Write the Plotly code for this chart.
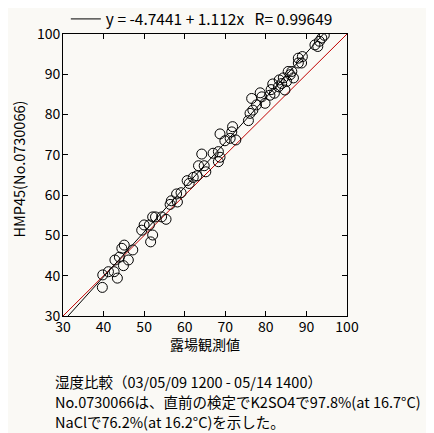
import plotly.graph_objects as go

obs = [39.7, 39.8, 41.2, 42.6, 43.4, 42.8, 44.9, 46.1, 43.9, 44.5, 45.1, 47.2,
       49.4, 50.0, 51.3, 52.1, 51.6, 52.1, 52.8, 54.3, 55.4, 56.4, 56.7, 58.2,
       58.0, 59.1, 60.6, 61.1, 62.1, 63.0, 63.4, 64.8, 65.2, 64.2, 67.0, 68.3,
       68.7, 68.3, 69.9, 68.7, 71.2, 71.6, 71.8, 72.6, 75.7, 76.1, 76.8, 76.5,
       77.7, 78.6, 79.0, 79.8, 81.0, 81.3, 82.1, 81.7, 83.1, 83.9, 84.7, 85.1,
       83.3, 84.3, 85.5, 86.4, 86.0, 86.8, 88.0, 89.0, 88.0, 88.8, 92.1, 92.8,
       93.2, 93.8, 94.4]
hmp = [37.1, 40.2, 41.0, 41.0, 39.4, 43.9, 42.5, 43.9, 44.6, 46.8, 47.6, 46.4,
       51.3, 52.6, 52.6, 50.1, 48.4, 54.6, 54.6, 54.6, 54.0, 57.7, 58.6, 58.3,
       60.3, 60.6, 63.6, 62.9, 64.4, 64.8, 67.3, 67.3, 65.8, 70.2, 70.4, 70.8,
       69.4, 68.3, 73.5, 75.2, 74.1, 75.7, 77.0, 73.7, 78.5, 80.3, 81.1, 84.0,
       82.4, 85.4, 84.4, 82.8, 84.8, 86.2, 85.3, 87.6, 86.9, 87.7, 86.1, 88.2,
       88.6, 89.1, 90.7, 90.7, 89.9, 89.1, 94.0, 94.4, 92.8, 92.8, 97.3, 96.9,
       98.2, 99.0, 99.7]

intercept = -4.7441
slope = 1.112
r_value = 0.99649
axis_range = [30, 100]
tick_vals = [30, 40, 50, 60, 70, 80, 90, 100]

fit_x = axis_range
fit_y = [intercept + slope * v for v in fit_x]

bg = "#faf9f5"
font_family = "Noto Sans CJK JP, Noto Sans, sans-serif"
gap = "\u00a0" * 3

fig = go.Figure()
fig.add_trace(go.Scatter(
    x=axis_range, y=axis_range, mode="lines",
    line=dict(color="#c00000", width=1), showlegend=False, hoverinfo="skip"))
fig.add_trace(go.Scatter(
    x=fit_x, y=fit_y, mode="lines",
    line=dict(color="black", width=1),
    name=f"y = {intercept} + {slope}x{gap}R= {r_value}", showlegend=True))
fig.add_trace(go.Scatter(
    x=obs, y=hmp, mode="markers",
    marker=dict(symbol="circle-open", size=10, color="black", line=dict(width=1)),
    showlegend=False))

axis_common = dict(
    range=axis_range, tickvals=tick_vals, ticks="inside", ticklen=5,
    tickwidth=1, tickcolor="black", showline=True, linecolor="black",
    linewidth=1, mirror="ticks", showgrid=False, zeroline=False,
    automargin=False,
    tickfont=dict(size=14, color="black", family=font_family),
)

fig.update_layout(
    width=426, height=425,
    margin=dict(l=55, r=87, t=26, b=117, autoexpand=False),
    paper_bgcolor=bg, plot_bgcolor=bg,
    font=dict(family=font_family, color="black", size=14),
    xaxis=dict(**axis_common, ticklabelstandoff=-2),
    yaxis=dict(**axis_common, ticklabelstandoff=-1),
    showlegend=True,
    legend=dict(orientation="h", x=0.01, xanchor="left", y=1.052, yanchor="middle",
                bgcolor="rgba(0,0,0,0)", font=dict(size=15.5),
                itemwidth=30),
    annotations=[
        dict(text="露場観測値", x=0.5, y=-0.1, xref="paper", yref="paper",
             showarrow=False, font=dict(size=14), xanchor="center", yanchor="middle"),
        dict(text="HMP45(No.0730066)", x=-0.158, y=0.52, xref="paper", yref="paper",
             showarrow=False, textangle=-90, font=dict(size=14.5),
             xanchor="center", yanchor="middle"),
        dict(text="湿度比較（03/05/09 1200 - 05/14 1400）", x=-0.035, y=-0.232,
             xref="paper", yref="paper", showarrow=False, xanchor="left",
             yanchor="middle", font=dict(size=14.5)),
        dict(text="No.0730066は、直前の検定でK2SO4で97.8%(at 16.7°C)", x=-0.035, y=-0.303,
             xref="paper", yref="paper", showarrow=False, xanchor="left",
             yanchor="middle", font=dict(size=14.5)),
        dict(text="NaClで76.2%(at 16.2°C)を示した。", x=-0.035, y=-0.374,
             xref="paper", yref="paper", showarrow=False, xanchor="left",
             yanchor="middle", font=dict(size=14.5)),
    ],
)

fig.write_html("out.html")
